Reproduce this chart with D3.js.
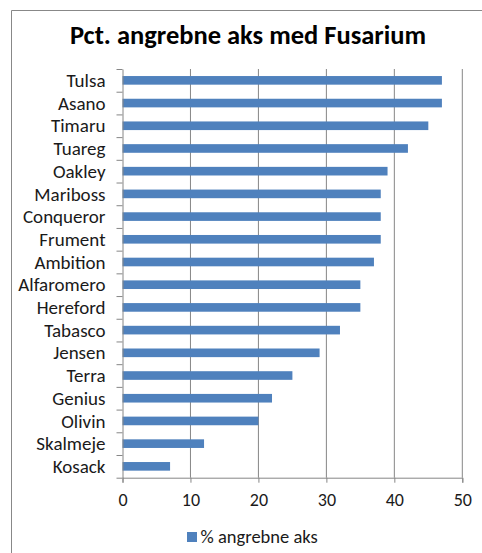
<!DOCTYPE html>
<html>
<head>
<meta charset="utf-8">
<script src="https://cdn.jsdelivr.net/npm/d3@7"></script>
<style>
  body { margin: 0; background: #fff; }
  svg { display: block; font-family: Carlito, "Open Sans", sans-serif; }
</style>
</head>
<body>
<script>
const varieties = ["Tulsa", "Asano", "Timaru", "Tuareg", "Oakley", "Mariboss", "Conqueror", "Frument",
  "Ambition", "Alfaromero", "Hereford", "Tabasco", "Jensen", "Terra", "Genius", "Olivin", "Skalmeje", "Kosack"];
const pctAttacked = [47, 47, 45, 42, 39, 38, 38, 38, 37, 35, 35, 32, 29, 25, 22, 20, 12, 7];
const xTicks = [0, 10, 20, 30, 40, 50];
const seriesName = "% angrebne aks";
const title = "Pct. angrebne aks med Fusarium";

const width = 482, height = 553;
const margin = { left: 122.5, top: 69 };
const plotRight = 462.3, plotBottom = 477.7;

const svg = d3.select("body").append("svg")
  .attr("width", width)
  .attr("height", height);

// chart frame (only left and top edges are visible in the crop)
svg.append("path")
  .attr("d", `M11.5,${height}V10.5H${width}`)
  .attr("fill", "none")
  .attr("stroke", "#888")
  .attr("stroke-width", 1);

svg.append("text")
  .attr("x", 248)
  .attr("y", 44)
  .attr("text-anchor", "middle")
  .attr("font-size", 26.5)
  .attr("font-weight", "bold")
  .attr("fill", "#000")
  .text(title);

const x = d3.scaleLinear()
  .domain([0, 50])
  .range([margin.left, plotRight]);

const y = d3.scaleBand()
  .domain(varieties)
  .range([margin.top, plotBottom])
  .paddingInner(0.62)
  .paddingOuter(0.31);

const yEdges = d3.scaleLinear()
  .domain([0, varieties.length])
  .range([margin.top, plotBottom]);

// vertical gridlines
svg.append("g")
  .selectAll("line")
  .data(xTicks.slice(1))
  .join("line")
  .attr("x1", d => x(d))
  .attr("x2", d => x(d))
  .attr("y1", margin.top)
  .attr("y2", plotBottom)
  .attr("stroke", "#868686")
  .attr("stroke-width", 1);

// bars
svg.append("g")
  .selectAll("rect")
  .data(varieties)
  .join("rect")
  .attr("x", x(0))
  .attr("y", d => y(d))
  .attr("width", (d, i) => x(pctAttacked[i]) - x(0))
  .attr("height", y.bandwidth())
  .attr("fill", "#4F81BD");

// x axis
const xAxis = svg.append("g")
  .attr("transform", `translate(0,${plotBottom})`)
  .call(d3.axisBottom(x).tickValues(xTicks).tickSize(5).tickPadding(11));
xAxis.select(".domain").attr("stroke", "#868686");
xAxis.selectAll(".tick line").attr("stroke", "#868686");
xAxis.selectAll(".tick text")
  .attr("font-size", 18)
  .attr("font-family", "Carlito, 'Open Sans', sans-serif")
  .attr("fill", "#1a1a1a");

// y axis: line with ticks at category boundaries
const yAxis = svg.append("g")
  .attr("transform", `translate(${margin.left},0)`)
  .call(d3.axisLeft(yEdges).ticks(varieties.length).tickSize(6).tickSizeOuter(0).tickFormat(""));
yAxis.select(".domain").attr("stroke", "#868686");
yAxis.selectAll(".tick line").attr("stroke", "#868686");

// category labels
svg.append("g")
  .selectAll("text")
  .data(varieties)
  .join("text")
  .attr("x", 105.5)
  .attr("y", d => y(d) + y.bandwidth() / 2)
  .attr("dy", "0.35em")
  .attr("text-anchor", "end")
  .attr("font-size", 19)
  .attr("fill", "#1a1a1a")
  .text(d => d);

// legend
const legend = svg.append("g").attr("transform", "translate(187,532)");
legend.append("rect")
  .attr("width", 10)
  .attr("height", 10)
  .attr("fill", "#4F81BD");
legend.append("text")
  .attr("x", 13.5)
  .attr("y", 5)
  .attr("dy", "0.35em")
  .attr("font-size", 18.5)
  .attr("fill", "#1a1a1a")
  .text(seriesName);
</script>
</body>
</html>
